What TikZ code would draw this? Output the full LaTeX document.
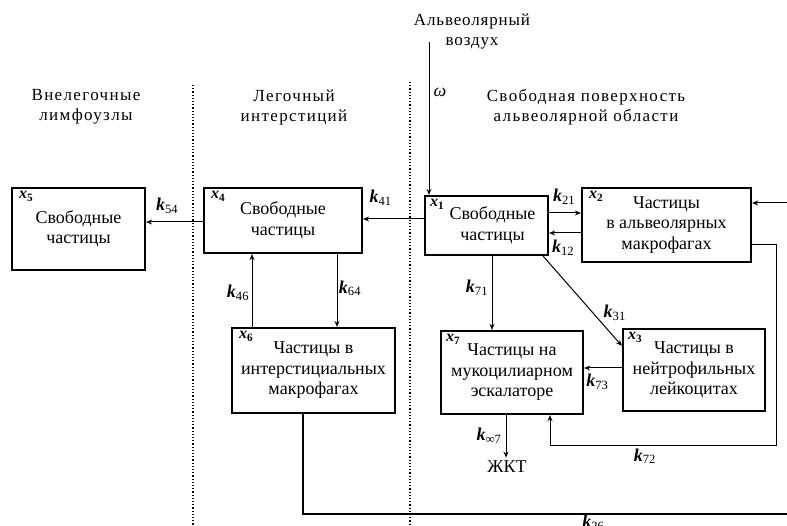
\documentclass[tikz,border=0pt]{standalone}
\usepackage{fontspec}
\setmainfont{Liberation Serif}
\usetikzlibrary{positioning,arrows.meta}
\newcommand{\kk}[1]{\textbf{\textit{k}}\textsubscript{#1}}
\newcommand{\xx}[1]{\textbf{\textit{x}}\textsubscript{\textbf{#1}}}

\begin{document}
\begin{tikzpicture}[x=1pt,y=-1pt,
            font=\fontsize{18}{20.5}\selectfont,
            box/.style={rectangle, draw=black, line width=2.2pt, align=center, inner sep=0pt},
            xlab/.style={anchor=north west, inner sep=0pt, font=\fontsize{16}{17}\selectfont},
            arr/.style={line width=1pt, -{Stealth[length=6pt,width=5pt]}},
            wire/.style={line width=1.4pt},
            zone/.style={dotted, line width=1.2pt},
            head/.style={align=center, font=\fontsize{17}{20}\selectfont\addfontfeature{LetterSpace=8}},
        ]
        \useasboundingbox (0,0) rectangle (787,526);

        % zones
        \draw[zone] (193,85) -- (193,526);
        \draw[zone] (410,82) -- (410,526);
        \node[head] (hlymph) at (86,107) {Внелегочные\\лимфоузлы};
        \node[head] (hinter) at (294,107) {Легочный\\интерстиций};
        \node[head] (hsurf) at (586,107) {Свободная поверхность\\альвеолярной области};
        \node[head, font=\fontsize{17}{20}\selectfont\addfontfeature{LetterSpace=5}] (air) at (472,32) {Альвеолярный\\воздух};

        % compartments
        \node[box, minimum width=133pt, minimum height=82pt] (x5) at (78.5,229) {Свободные\\частицы};
        \node[box, minimum width=158pt, minimum height=65pt] (x4) at (283,220.5) {Свободные\\частицы};
        \node[box, minimum width=123pt, minimum height=59pt] (x1) at (486.5,225.5) {\hspace*{12pt}Свободные\\\hspace*{12pt}частицы};
        \node[box, minimum width=169pt, minimum height=74pt] (x2) at (666.5,225) {Частицы\\в альвеолярных\\макрофагах};
        \node[box, minimum width=163pt, minimum height=85pt] (x6) at (313.5,370.5) {Частицы в\\интерстициальных\\макрофагах};
        \node[box, minimum width=142pt, minimum height=83pt] (x7) at (512,372.5) {Частицы на\\мукоцилиарном\\эскалаторе};
        \node[box, minimum width=142pt, minimum height=82pt] (x3) at (694,370) {Частицы в\\нейтрофильных\\лейкоцитах};
        \node (zhkt) at (507,467) {ЖКТ};

        \node[xlab] (x5lab) at ([xshift=8pt,yshift=-4pt]x5.north west) {\xx{5}};
        \node[xlab] (x4lab) at ([xshift=8pt,yshift=-4pt]x4.north west) {\xx{4}};
        \node[xlab] (x1lab) at ([xshift=6pt,yshift=-4pt]x1.north west) {\xx{1}};
        \node[xlab] (x2lab) at ([xshift=8pt,yshift=-4pt]x2.north west) {\xx{2}};
        \node[xlab] (x6lab) at ([xshift=8pt,yshift=-4pt]x6.north west) {\xx{6}};
        \node[xlab] (x7lab) at ([xshift=6pt,yshift=-4pt]x7.north west) {\xx{7}};
        \node[xlab] (x3lab) at ([xshift=6pt,yshift=-4pt]x3.north west) {\xx{3}};

        \coordinate (inhale) at (429,42);
        \coordinate (rin) at (787,203);
        \coordinate (rout) at (787,514);

        % transfers
        \draw[arr] (inhale) -- (inhale |- x1.north) node[pos=0.33, xshift=11pt] {\textit{ω}};

        \draw[arr] ([yshift=6.5pt]x1.west) -- ([yshift=6.5pt]x1.west -| x4.east) node[pos=0.71, yshift=21pt] {\kk{41}};
        \draw[arr] ([yshift=-1.5pt]x4.west) -- ([yshift=-1.5pt]x4.west -| x5.east) node[pos=0.63, yshift=16pt] {\kk{54}};

        \draw[arr] ([yshift=12.5pt]x1.east) -- ([yshift=12.5pt]x1.east -| x2.west) node[pos=0.47, yshift=16pt] {\kk{21}};
        \draw[arr] ([yshift=-8pt]x2.west) -- ([yshift=-8pt]x2.west -| x1.east) node[pos=0.56, yshift=-15pt] {\kk{12}};

        \draw[arr] ([xshift=-61.5pt]x6.north) -- ([xshift=-61.5pt]x6.north |- x4.south) node[pos=0.47, xshift=-14pt] {\kk{46}};
        \draw[arr] ([xshift=54pt]x4.south) -- ([xshift=54pt]x4.south |- x6.north) node[pos=0.47, xshift=13pt] {\kk{64}};

        \draw[arr] ([xshift=5.5pt]x1.south) -- ([xshift=5.5pt]x1.south |- x7.north) node[pos=0.43, xshift=-15pt] {\kk{71}};
        \draw[arr] ([xshift=-6pt]x1.south east) -- ([yshift=-18pt]x3.north west) node[pos=0.63, xshift=22pt] {\kk{31}};
        \draw[arr] ([yshift=2pt]x3.west) -- ([yshift=2pt]x3.west -| x7.east) node[pos=0.65, yshift=-14pt] {\kk{73}};

        \draw[arr] ([xshift=-6pt]x7.south) -- ([xshift=-6pt]x7.south |- zhkt.north) node[pos=0.48, xshift=-17pt] {\kk{∞7}};

        \draw[arr] ([yshift=-20pt]x2.east) -- ++(24,0) |- ([xshift=38pt,yshift=-30pt]x7.south) node[pos=0.79, yshift=-11pt] {\kk{72}} -- ([xshift=38pt]x7.south);
        \draw[arr] (rin) -- (rin -| x2.east);

        \draw[wire] ([xshift=-10.5pt]x6.south) |- (rout) node[pos=0.80, yshift=-9pt] {\kk{26}};

    \end{tikzpicture}
\end{document}
